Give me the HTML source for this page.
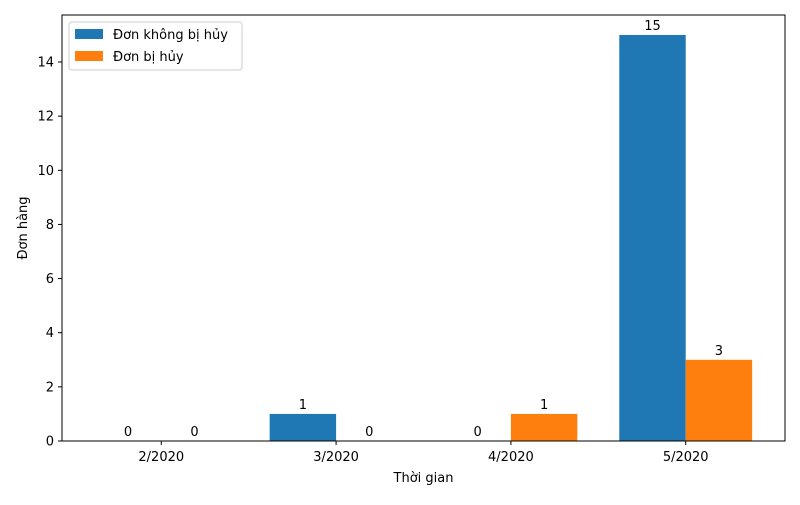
<!DOCTYPE html>
<html><head><meta charset="utf-8"><style>
body{margin:0;background:#fff;font-family:"Liberation Sans","DejaVu Sans",sans-serif;}
svg text{font-family:"DejaVu Sans","Liberation Sans",sans-serif;font-size:13px;fill:#000;}
</style></head><body>
<svg id="chart" width="800" height="500" xmlns="http://www.w3.org/2000/svg"></svg>
<script>
const categories=["2/2020","3/2020","4/2020","5/2020"];
const notCancelled=[0,1,0,15];
const cancelled=[0,0,1,3];
const yTicks=[0,2,4,6,8,10,12,14];
const seriesNames=["Đơn không bị hủy","Đơn bị hủy"];
const colors=["#1f77b4","#ff7f0e"];
const svg=document.getElementById('chart');
const NS="http://www.w3.org/2000/svg";
const L=62,R=785,T=15,B=441;
const bw=0.38, xmin=-0.568, xmax=3.568, ymax=15.737;
const xs=v=>L+(v-xmin)/(xmax-xmin)*(R-L);
const ys=v=>B-v/ymax*(B-T);
function mk(tag,attrs,parent){const e=document.createElementNS(NS,tag);for(const k in attrs)e.setAttribute(k,attrs[k]);(parent||svg).appendChild(e);return e;}
const series=[notCancelled,cancelled];
series.forEach((s,si)=>{
  s.forEach((v,i)=>{
    const x0=si===0?xs(i-bw):xs(i);
    const r=mk('rect',{x:x0,y:ys(v),width:xs(i)-xs(i-bw),height:B-ys(v),fill:colors[si]});
    
    
    const t=mk('text',{x:x0+(xs(i)-xs(i-bw))/2,y:ys(v)-5,'text-anchor':'middle'});
    t.textContent=v;
    
    
  });
});
const frame=mk('rect',{x:L,y:T,width:R-L,height:B-T,fill:'none',stroke:'#000','stroke-width':1});


yTicks.forEach(v=>{
  mk('line',{x1:L-4,x2:L,y1:ys(v),y2:ys(v),stroke:'#000'});
  const t=mk('text',{x:L-8,y:ys(v)+4.5,'text-anchor':'end'});t.textContent=v;
  
  
});
categories.forEach((c,i)=>{
  mk('line',{x1:xs(i),x2:xs(i),y1:B,y2:B+4,stroke:'#000'});
  const t=mk('text',{x:xs(i),y:B+20,'text-anchor':'middle'});t.textContent=c;
  
  
});
const xt=mk('text',{x:(L+R)/2,y:482,'text-anchor':'middle'});xt.textContent="Thời gian";


const yt=mk('text',{x:27,y:(T+B)/2,'text-anchor':'middle',transform:`rotate(-90 27 ${(T+B)/2})`});yt.textContent="Đơn hàng";


const lg=mk('g',{});


mk('rect',{x:69,y:22,width:173,height:48,rx:3,fill:'#fff',stroke:'#ccc'},lg);
seriesNames.forEach((n,i)=>{
  const sw=mk('rect',{x:75,y:29+i*22,width:28,height:10,fill:colors[i]},lg);
  
  
  const t=mk('text',{x:113,y:39+i*22},lg);t.textContent=n;
  
  
});
</script>
</body></html>
